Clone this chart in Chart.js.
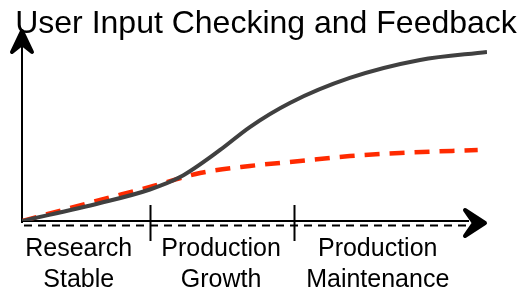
<!DOCTYPE html>
<html>
<head>
<meta charset="utf-8">
<script src="https://cdn.jsdelivr.net/npm/chart.js@4/dist/chart.umd.min.js"></script>
<style>
  html, body { margin: 0; padding: 0; background: #fff; }
  #wrap { width: 519px; height: 292px; }
</style>
</head>
<body>
<div id="wrap"><canvas id="lifeChart" width="519" height="292"></canvas></div>
<script>
// Chart values (time 0-100 on x, effort 0-100 on y)
const titleText = 'User Input Checking and Feedback';
const withoutChecksX = [0, 16.8, 27.5, 34, 42.6, 49, 57.6, 70.5, 85.6, 100];
const withoutChecksY = [0, 9.4, 16.5, 23, 37.2, 49.2, 61.8, 74.9, 84.3, 88.5];
const withChecksX = [0, 16.8, 27.5, 38.3, 49, 59.8, 70.5, 81.3, 98];
const withChecksY = [0, 11, 17.8, 25.1, 28.8, 31.4, 34, 35.6, 37.2];
const phaseBounds = [27.5, 58.5];
const phaseCenters = [12.2, 42.8, 76.5];
const phaseLabels = [['Research', 'Stable'], ['Production', 'Growth'], ['Production', 'Maintenance']];

const FONT = '"Liberation Sans", Arial, sans-serif';

function toPoints(xs, ys) {
    return xs.map((x, i) => ({ x: x, y: ys[i] }));
}

// axes, arrows, phase ticks, labels and title drawn by hand
const decorations = {
    id: 'decorations',
    beforeDatasetsDraw(chart) {
        const ctx = chart.ctx;
        const xs = chart.scales.x, ys = chart.scales.y;
        const x0 = xs.getPixelForValue(0);
        const y0 = ys.getPixelForValue(0);
        const xEnd = xs.getPixelForValue(100);
        const yTop = ys.getPixelForValue(100);

        ctx.save();
        ctx.strokeStyle = '#000';
        ctx.fillStyle = '#000';
        ctx.lineCap = 'butt';

        // y axis
        ctx.lineWidth = 2;
        ctx.beginPath();
        ctx.moveTo(x0, y0 + 2);
        ctx.lineTo(x0, yTop + 8);
        ctx.stroke();

        // x axis (solid + dashed under it)
        ctx.beginPath();
        ctx.moveTo(x0, y0);
        ctx.lineTo(xEnd - 18, y0);
        ctx.stroke();
        ctx.setLineDash([8, 6]);
        ctx.beginPath();
        ctx.moveTo(x0 + 2, y0 + 4.5);
        ctx.lineTo(xEnd - 18, y0 + 4.5);
        ctx.stroke();
        ctx.setLineDash([]);

        // arrow heads
        ctx.lineJoin = 'round';
        ctx.lineWidth = 4;
        ctx.beginPath();
        ctx.moveTo(x0, yTop + 1);
        ctx.lineTo(x0 + 10, yTop + 22);
        ctx.lineTo(x0, yTop + 14);
        ctx.lineTo(x0 - 10, yTop + 22);
        ctx.closePath();
        ctx.fill();
        ctx.stroke();

        const ay = y0 + 2;
        ctx.beginPath();
        ctx.moveTo(xEnd - 2, ay);
        ctx.lineTo(xEnd - 22, ay - 13);
        ctx.lineTo(xEnd - 13, ay);
        ctx.lineTo(xEnd - 22, ay + 13);
        ctx.closePath();
        ctx.fill();
        ctx.stroke();

        // phase separators
        ctx.lineWidth = 2;
        phaseBounds.forEach(v => {
            const px = Math.round(xs.getPixelForValue(v)) + 0.5;
            ctx.beginPath();
            ctx.moveTo(px, y0 - 16);
            ctx.lineTo(px, y0 + 20);
            ctx.stroke();
        });

        // phase labels
        ctx.font = '25px ' + FONT;
        ctx.textAlign = 'center';
        ctx.textBaseline = 'alphabetic';
        phaseLabels.forEach((lines, i) => {
            const px = xs.getPixelForValue(phaseCenters[i]);
            lines.forEach((t, j) => ctx.fillText(t, px, y0 + 35 + j * 31));
        });

        // title
        ctx.font = '32px ' + FONT;
        ctx.fillText(titleText, 266, 33);
        ctx.restore();
    }
};

new Chart(document.getElementById('lifeChart'), {
    type: 'line',
    data: {
        datasets: [{
            label: 'Without checking',
            data: toPoints(withoutChecksX, withoutChecksY),
            borderColor: '#404040',
            borderWidth: 4,
            cubicInterpolationMode: 'monotone',
            pointRadius: 0,
            fill: false
        }, {
            label: 'With checking',
            data: toPoints(withChecksX, withChecksY),
            borderColor: '#ff2a00',
            borderWidth: 4.5,
            borderDash: [15, 10],
            cubicInterpolationMode: 'monotone',
            pointRadius: 0,
            fill: false
        }]
    },
    options: {
        responsive: false,
        animation: false,
        layout: {
            padding: { left: 22, right: 32, top: 30, bottom: 71 }
        },
        plugins: {
            legend: { display: false },
            title: { display: false },
            tooltip: { enabled: false }
        },
        scales: {
            x: { type: 'linear', min: 0, max: 100, display: false },
            y: { min: 0, max: 100, display: false }
        }
    },
    plugins: [decorations]
});
</script>
</body>
</html>
